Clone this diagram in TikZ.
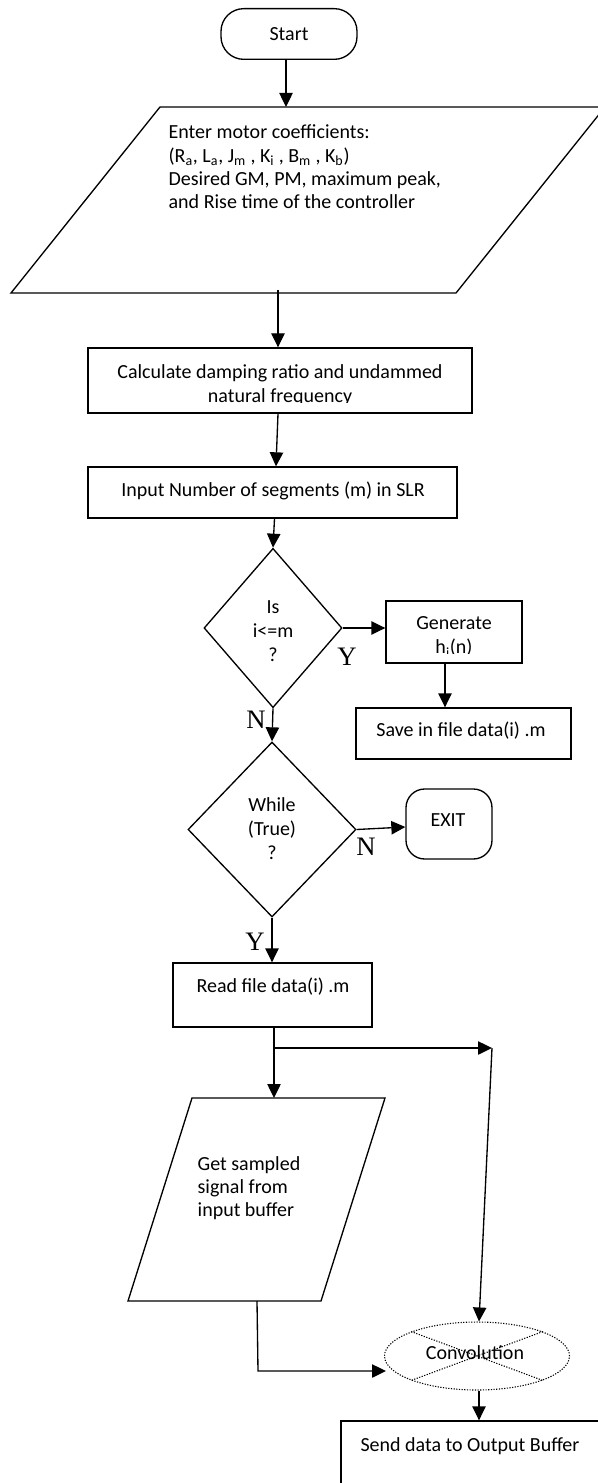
\documentclass[tikz,border=0pt]{standalone}
\usepackage{fontspec}
\setmainfont{Carlito}
\newfontfamily\serifyn{Liberation Serif}
\usetikzlibrary{arrows.meta,shapes.geometric,fit}
\begin{document}
\begin{tikzpicture}[x=0.75pt,y=-0.75pt,
  line width=1pt,
  arr/.style={-{Triangle[length=10.5pt,width=10pt]}},
  box/.style={draw,rectangle,inner sep=0pt},
  txt/.style={font=\fontsize{15}{18}\selectfont, inner sep=0pt, align=center},
  ltxt/.style={font=\fontsize{15}{17.5}\selectfont, inner sep=0pt, align=left, anchor=west},
  yn/.style={font=\serifyn\fontsize{20}{20}\selectfont, inner sep=0pt},
  dec/.style={draw, diamond, inner sep=0pt, txt},
  term/.style={draw, rectangle, inner sep=0pt, txt},
  dots/.style={line width=0.8pt, dash pattern=on 0.9pt off 1.1pt},
]
\useasboundingbox (0,0) rectangle (598,1483);

% Start
\node[term, rounded corners=17pt, minimum width=102pt, minimum height=38pt] (start) at (289,34) {Start};

% input parallelogram
\coordinate (p1bl) at (11,293);
\coordinate (p1tl) at (160,107);
\coordinate (p1tr) at (605,107);
\coordinate (p1br) at (456,293);
\draw (p1bl) -- (p1tl) -- (p1tr) -- (p1br) -- cycle;
\node[ltxt] (t1) at (168,167) {Enter motor coefficients:\\
(R\textsubscript{a}, L\textsubscript{a}, J\textsubscript{m} , K\textsubscript{i} , B\textsubscript{m} , K\textsubscript{b})\\
Desired GM, PM, maximum peak,\\
and Rise time of the controller};
\coordinate (p1in) at (286,107);
\coordinate (p1out) at (278,290);
\draw[arr] (start.south -| p1in) -- (p1in);

% damping box
\node[box, fit={(88,348)(472,413)}] (b2) {};
\begin{scope}
\clip (88,350) rectangle (472,402);
\node[txt] (t2) at (280,385) {Calculate damping ratio and undammed\\natural frequency};
\end{scope}
\draw[arr] (p1out) -- (p1out |- b2.north);

% segments box
\node[box, fit={(88,467)(457,518)}] (b3) {};
\node[txt] (t3) at (273,491) {Input Number of segments (m) in SLR};
\draw[arr] ([xshift=-1.5pt]b2.south) -- ([xshift=2.6pt]b3.north);

% decision 1
\node[dec, minimum width=103.5pt, minimum height=119.5pt] (d1) at (273,628) {};
\node[txt] (td1) at (273,631) {Is\\i<=m\\?};
\draw[arr] ([xshift=1.5pt]b3.south) -- (d1.north);

% generate
\node[box, fit={(386,601)(522,663)}] (gen) {};
\begin{scope}
\clip (386,603) rectangle (522,653);
\node[txt] (tg) at (454,637) {Generate\\h\textsubscript{i}(n)};
\end{scope}
\draw[arr] (d1.east) -- (d1.east -| gen.west);
\node[yn] (y1) at (347,657) {Y};

% save
\node[box, fit={(356,708)(571,759)}] (save) {};
\node[txt] (ts) at (461,731) {Save in file data(i) .m};
\draw[arr] ([xshift=-6.75pt]gen.south) -- ([xshift=-6.75pt]gen.south |- save.north);

% decision 2
\node[dec, minimum width=126pt, minimum height=131.25pt] (d2) at (272,829.5) {};
\node[txt] (td2) at (272,829) {While\\(True)\\?};
\draw[arr] (d1.south) -- (d2.north);
\node[yn] (n1) at (256,720) {N};

% exit
\node[term, rounded corners=14pt, minimum width=64.5pt, minimum height=52.5pt] (exit) at (449,824) {};
\node[txt] (te) at (448,820) {EXIT};
\draw[arr] (d2.east) -- ([yshift=-2.25pt]exit.west);
\node[yn] (n2) at (366,847) {N};

% read
\node[box, fit={(173,963)(372,1027)}] (read) {};
\node[txt] (tr) at (273,987) {Read file data(i) .m};
\draw[arr] (d2.south) -- (d2.south |- read.north);
\node[yn] (y2) at (255,942) {Y};

% input buffer parallelogram
\coordinate (p2bl) at (128,1301);
\coordinate (p2tl) at (192,1098);
\coordinate (p2tr) at (385,1098);
\coordinate (p2br) at (321,1301);
\draw (p2bl) -- (p2tl) -- (p2tr) -- (p2br) -- cycle;
\node[ltxt] (tp2) at (197,1188) {Get sampled\\signal from\\input buffer};
\coordinate (p2in) at (274,1098);
\coordinate (br) at (274,1048);
\coordinate (rc) at (492,1048);
\draw[arr] (read.south -| p2in) -- (p2in);
\draw[arr] (br) -- (rc);

% convolution
\node[draw, ellipse, dots, minimum width=138.75pt, minimum height=51pt, inner sep=0pt] (conv) at (477,1356) {};
\draw[dots] (conv.north west) -- (conv.south east) (conv.north east) -- (conv.south west);
\node[txt] (tc) at (475,1353) {Convolution};
\draw[arr] (rc) -- ([xshift=1.5pt]conv.north);
\coordinate (p2out) at (257,1301);
\coordinate (cv) at (258,1371);
\coordinate (convin) at (386,1371);
\draw[arr] (p2out) -- (cv) -- (convin);

% send
\node[box, fit={(341,1421)(610,1500)}] (send) {};
\node[txt] (tsd) at (470,1446) {Send data to Output Buffer};
\draw[arr] ([xshift=1.5pt]conv.south) -- ([xshift=1.5pt]conv.south |- send.north);
\end{tikzpicture}
\end{document}
